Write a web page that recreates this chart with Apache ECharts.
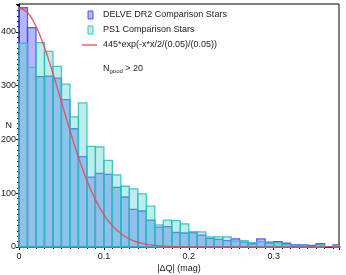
<!DOCTYPE html>
<html>
<head>
<meta charset="utf-8">
<script src="https://cdn.jsdelivr.net/npm/echarts@6/dist/echarts.min.js"></script>
<style>
html,body{margin:0;padding:0;background:#fff;}
#chart{width:346px;height:275px;}
</style>
</head>
<body>
<div id="chart"></div>
<script>
// Histogram bins: left edge = binStart + i*binWidth
var binStart = 0;
var binWidth = 0.01;
var delveCounts = [445, 408, 317, 318, 314, 274, 220, 168, 130, 137, 135, 111, 93, 70, 67, 50, 37, 38, 27, 26, 27, 22, 16, 14, 12, 15, 9, 6, 15, 9, 10, 7, 4, 4, 3, 6, 0, 4];
var ps1Counts   = [379, 334, 380, 364, 336, 303, 242, 268, 187, 186, 161, 134, 113, 108, 99, 76, 41, 50, 49, 43, 28, 28, 19, 19, 19, 11, 12, 8, 10, 7, 8, 5, 3, 3, 1, 4, 0, 3];
// Gaussian model curve 445*exp(-x*x/2/(0.05)/(0.05)), sampled
var curveX = [0, 0.01, 0.02, 0.03, 0.04, 0.05, 0.06, 0.07, 0.08, 0.09, 0.10, 0.11, 0.12, 0.13, 0.14, 0.15, 0.16, 0.17, 0.18, 0.20, 0.22, 0.25, 0.30, 0.35, 0.38];
var curveY = [445, 436.2, 410.8, 371.7, 323.1, 269.9, 216.6, 167.0, 123.7, 88.1, 60.2, 39.6, 25.0, 15.1, 8.8, 4.9, 2.7, 1.4, 0.7, 0.15, 0, 0, 0, 0, 0];
var xTicks = [0, 0.1, 0.2, 0.3];
var yTicks = [0, 100, 200, 300, 400];

var names = ['DELVE DR2 Comparison Stars', 'PS1 Comparison Stars', '445*exp(-x*x/2/(0.05)/(0.05))'];
var FONT = 'Liberation Sans, Arial, sans-serif';

function histData(counts) {
  return counts.map(function (c, i) { return [binStart + i * binWidth, c]; });
}
function renderBin(params, api) {
  var left = api.value(0), v = api.value(1);
  if (!v) return;
  var p0 = api.coord([left, 0]);
  var p1 = api.coord([left + binWidth, v]);
  var cs = params.coordSys;
  var shape = echarts.graphic.clipRectByRect(
    { x: p0[0], y: p1[1], width: p1[0] - p0[0], height: p0[1] - p1[1] },
    { x: cs.x, y: cs.y, width: cs.width, height: cs.height + 1 });
  if (!shape) return;
  return { type: 'rect', shape: shape, style: api.style() };
}

var chart = echarts.init(document.getElementById('chart'), null, { renderer: 'canvas' });
chart.setOption({
  animation: false,
  backgroundColor: '#fff',
  textStyle: { fontFamily: FONT },
  grid: { left: 19, right: 7, top: 4, bottom: 28, containLabel: false, outerBoundsMode: 'none',
          show: true, borderColor: '#000', borderWidth: 1, backgroundColor: 'transparent' },
  xAxis: {
    type: 'value', min: 0, max: 0.377, interval: 0.1,
    name: '|ΔQ| (mag)', nameLocation: 'middle', nameGap: 17, nameMoveOverlap: false,
    nameTextStyle: { fontSize: 9, color: '#222', fontFamily: FONT },
    axisLine: { lineStyle: { color: '#000', width: 1 } },
    axisTick: { show: true, length: 3, lineStyle: { color: '#000' } },
    minorTick: { show: true, splitNumber: 10, length: 2, lineStyle: { color: '#000' } },
    splitLine: { show: false },
    axisLabel: { fontSize: 9, color: '#222', margin: 5, fontFamily: FONT,
      formatter: function (v) { return xTicks.indexOf(Math.round(v * 10) / 10) >= 0 ? (v === 0 ? '0' : v.toFixed(1)) : ''; } }
  },
  yAxis: {
    type: 'value', min: 0, max: 452, interval: 100,
    name: 'N', nameLocation: 'middle', nameGap: 7, nameRotate: 0, nameMoveOverlap: false,
    nameTextStyle: { fontSize: 9, color: '#222', fontFamily: FONT, padding: [0, 0, 6, 0] },
    axisLine: { show: true, lineStyle: { color: '#000', width: 1 } },
    axisTick: { show: true, length: 3, lineStyle: { color: '#000' } },
    minorTick: { show: true, splitNumber: 10, length: 2, lineStyle: { color: '#000' } },
    splitLine: { show: false },
    axisLabel: { fontSize: 9, color: '#222', margin: 3, fontFamily: FONT,
      formatter: function (v) { return yTicks.indexOf(v) >= 0 ? String(v) : ''; } }
  },
  series: [
    {
      name: names[0], type: 'custom', renderItem: renderBin,
      data: histData(delveCounts), encode: { x: 0, y: 1 }, z: 2,
      itemStyle: { color: 'rgba(110,110,255,0.5)', borderColor: 'rgba(60,70,240,0.85)', borderWidth: 1.3 }
    },
    {
      name: names[1], type: 'custom', renderItem: renderBin,
      data: histData(ps1Counts), encode: { x: 0, y: 1 }, z: 3,
      itemStyle: { color: 'rgba(80,210,200,0.38)', borderColor: 'rgba(40,190,190,0.85)', borderWidth: 1.3 }
    },
    {
      name: names[2], type: 'line', smooth: 0.3, showSymbol: false, z: 4,
      data: curveX.map(function (x, i) { return [x, curveY[i]]; }),
      lineStyle: { color: 'rgba(232,70,85,0.85)', width: 1.4 }
    }
  ],
  graphic: [
    { type: 'rect', shape: { x: 88, y: 11, width: 5, height: 8 }, style: { fill: 'rgba(110,110,255,0.5)', stroke: 'rgba(60,70,240,0.9)', lineWidth: 1 } },
    { type: 'rect', shape: { x: 88, y: 26, width: 5, height: 8 }, style: { fill: 'rgba(80,210,200,0.38)', stroke: 'rgba(40,190,190,0.9)', lineWidth: 1 } },
    { type: 'line', shape: { x1: 82, y1: 45, x2: 97, y2: 45 }, style: { stroke: 'rgba(232,70,85,0.9)', lineWidth: 1.4 } },
    { type: 'text', x: 103, y: 15, style: { text: names[0], font: '9px ' + FONT, fill: '#222', verticalAlign: 'middle' } },
    { type: 'text', x: 103, y: 30, style: { text: names[1], font: '9px ' + FONT, fill: '#222', verticalAlign: 'middle' } },
    { type: 'text', x: 103, y: 45, style: { text: names[2], font: '9px ' + FONT, fill: '#222', verticalAlign: 'middle' } },
    { type: 'text', x: 103, y: 69, style: {
        text: '{n|N}{s|good}{n| > 20}', verticalAlign: 'middle', fill: '#222',
        rich: { n: { fontSize: 9, fontFamily: FONT, fill: '#222' }, s: { fontSize: 6, fontFamily: FONT, fill: '#222', padding: [4, 0, 0, 0] } } } }
  ]
});
</script>
</body>
</html>
